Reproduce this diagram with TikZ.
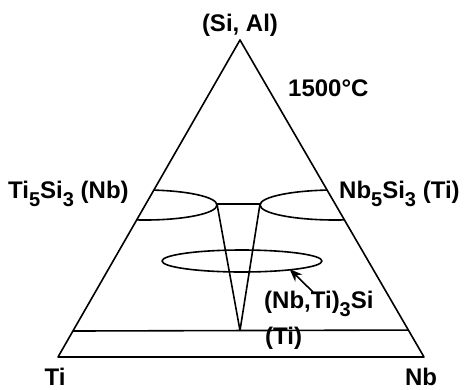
\documentclass[tikz,border=0pt]{standalone}
\usepackage{fontspec}
\setmainfont{Liberation Sans}
\usetikzlibrary{calc,arrows.meta}
\newcommand\lowidx[1]{\raisebox{-8.5pt}{\fontsize{20}{20}\selectfont #1}}
\tikzset{
  lbl/.style={inner sep=0pt, font=\fontsize{24}{27}\selectfont\bfseries},
  phase/.style={line width=1.6pt},
}
\begin{document}
\begin{tikzpicture}[x=1pt,y=-1pt,line join=round]
\useasboundingbox (0,0) rectangle (468,389);
\coordinate (SiAl) at (240,40);
\coordinate (Ti) at (58,357);
\coordinate (Nb) at (424,357);
\coordinate (hl) at ($(SiAl)!0.918!(Ti)$);
\coordinate (hr) at ($(SiAl)!0.915!(Nb)$);
\coordinate (vb) at (240,330.5);
\coordinate (vl) at (217,204);
\coordinate (vr) at (260,204);
\begin{scope}
  \clip (SiAl) -- (Ti) -- (Nb) -- cycle;
  \draw[phase] (145,205) ellipse [x radius=72, y radius=15];
  \draw[phase] (335,205) ellipse [x radius=75, y radius=15];
\end{scope}
\draw[phase] (SiAl) -- (Ti) -- (Nb) -- cycle;
\draw[phase] (hl) -- (hr);
\draw[phase] (vl) -- (vb) -- (vr) -- cycle;
\draw[phase] (242,261) ellipse [x radius=80, y radius=11];
\node[lbl, anchor=base] (top) at (240,31) {(Si, Al)};
\node[lbl, anchor=base west] (temp) at (288,96) {1500°C};
\node[lbl, anchor=base west] (ti5) at (8,198) {Ti\lowidx{5}Si\lowidx{3} (Nb)};
\node[lbl, anchor=base west] (nb5) at (339,198) {Nb\lowidx{5}Si\lowidx{3} (Ti)};
\node[lbl, anchor=base west] (nb3) at (264,308) {(Nb,Ti)\lowidx{3}Si};
\node[lbl, anchor=base west] (tiss) at (265,344) {(Ti)};
\node[lbl, anchor=base] (tilab) at (55,385) {Ti};
\node[lbl, anchor=base] (nblab) at (421,385) {Nb};
\coordinate (atail) at (313,292);
\coordinate (ahead) at (289.5,269);
\draw[phase, -{Stealth[length=13pt,width=10pt]}] (atail) -- (ahead);
\end{tikzpicture}
\end{document}
